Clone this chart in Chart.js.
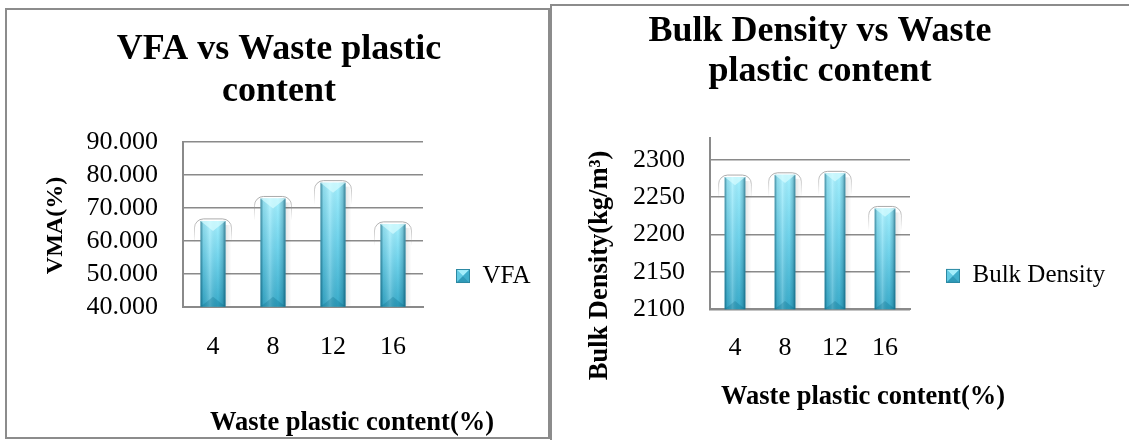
<!DOCTYPE html>
<html>
<head>
<meta charset="utf-8">
<script src="https://cdn.jsdelivr.net/npm/chart.js@4.4.1/dist/chart.umd.min.js"></script>
<style>
  html, body { margin: 0; padding: 0; background: #fff; }
  body { position: relative; width: 1129px; height: 440px; overflow: hidden; }
  .frame { position: absolute; box-sizing: border-box; border: 0 solid #8c8c8c; }
  #frameL { left: 5px; top: 8px; width: 545px; height: 431px; border-width: 2px; }
  #frameR { left: 550px; top: 4px; width: 579px; height: 436px; border-top-width: 2px; border-left-width: 2px; }
  canvas { position: absolute; top: 0; }
  #vfaChart { left: 0; }
  #densityChart { left: 512px; }
</style>
</head>
<body>
<div class="frame" id="frameL"></div>
<div class="frame" id="frameR"></div>
<canvas id="vfaChart" width="550" height="440"></canvas>
<canvas id="densityChart" width="617" height="440"></canvas>
<script>
// Waste plastic content of the mixes (%)
const contentLevels = ['4', '8', '12', '16'];
// Voids filled with asphalt (%)
const vfaValues = [66.0, 72.8, 77.6, 65.1];
// Bulk density (kg/m3)
const densityValues = [2277, 2280, 2282, 2235];
// Value axis ticks
const vfaTicks = [40, 50, 60, 70, 80, 90];
const densityTicks = [2100, 2150, 2200, 2250, 2300];
const densityAxisTop = 2329;

const SERIF = "'Liberation Serif', 'Times New Roman', serif";
const GRID = '#8a8a8a';
Chart.defaults.font.family = SERIF;
Chart.defaults.color = '#000';

// Column body: light cyan at the top fading to teal at the base
function barFill(c) {
  const chart = c.chart;
  if (c.type !== 'data' || !chart.chartArea) return '#5cc6df';
  const ys = chart.scales.y;
  const top = ys.getPixelForValue(c.raw);
  const bottom = ys.getPixelForValue(ys.min);
  const g = chart.ctx.createLinearGradient(0, top, 0, bottom);
  g.addColorStop(0, '#a6f1ff');
  g.addColorStop(0.45, '#72d5ed');
  g.addColorStop(1, '#3aaccb');
  return g;
}

// Glossy column look: outline round the top, rounded edge shading,
// bevelled top and bottom facets, and a matching legend swatch.
const barStyle = {
  id: 'barStyle',
  beforeDatasetsDraw(chart) {
    const ctx = chart.ctx;
    chart.getDatasetMeta(0).data.forEach(bar => {
      const { x, y, width } = bar.getProps(['x', 'y', 'width'], true);
      const l = x - width / 2 - 6, w = width + 12, t = y - 2, r = 9;
      const g = ctx.createLinearGradient(0, t, 0, t + 24);
      g.addColorStop(0, 'rgba(150,150,150,0.8)');
      g.addColorStop(1, 'rgba(150,150,150,0)');
      ctx.save();
      ctx.strokeStyle = g;
      ctx.lineWidth = 1;
      ctx.beginPath();
      ctx.moveTo(l, t + 24);
      ctx.lineTo(l, t + r);
      ctx.arcTo(l, t, l + r, t, r);
      ctx.lineTo(l + w - r, t);
      ctx.arcTo(l + w, t, l + w, t + r, r);
      ctx.lineTo(l + w, t + 24);
      ctx.stroke();
      ctx.restore();
    });
  },
  afterDatasetsDraw(chart) {
    const ctx = chart.ctx;
    const area = chart.chartArea;
    chart.getDatasetMeta(0).data.forEach(bar => {
      const p = bar.getProps(['x', 'y', 'base', 'width'], true);
      const x = p.x, y = p.y, width = p.width;
      const base = Math.min(p.base, area.bottom);
      const l = x - width / 2, r = x + width / 2, h = base - y;
      ctx.save();
      // soft shadow on the right
      const sh = ctx.createLinearGradient(r, 0, r + 6, 0);
      sh.addColorStop(0, 'rgba(0,0,0,0.10)');
      sh.addColorStop(1, 'rgba(0,0,0,0)');
      ctx.fillStyle = sh;
      ctx.fillRect(r, y + 4, 6, h - 5);
      // rounded edge shading
      const side = ctx.createLinearGradient(l, 0, r, 0);
      side.addColorStop(0, 'rgba(0,70,95,0.6)');
      side.addColorStop(0.12, 'rgba(0,70,95,0.12)');
      side.addColorStop(0.38, 'rgba(255,255,255,0.2)');
      side.addColorStop(0.7, 'rgba(0,70,95,0)');
      side.addColorStop(0.88, 'rgba(0,70,95,0.25)');
      side.addColorStop(1, 'rgba(0,70,95,0.65)');
      ctx.fillStyle = side;
      ctx.fillRect(l, y, width, h);
      const b = Math.min(width * 0.4, h / 2);
      // top facet
      ctx.beginPath();
      ctx.moveTo(l, y); ctx.lineTo(r, y); ctx.lineTo(x, y + b); ctx.closePath();
      ctx.fillStyle = 'rgba(215,252,255,0.7)';
      ctx.fill();
      // bottom facet
      ctx.beginPath();
      ctx.moveTo(l, base); ctx.lineTo(r, base); ctx.lineTo(x, base - b); ctx.closePath();
      ctx.fillStyle = 'rgba(0,95,125,0.25)';
      ctx.fill();
      ctx.restore();
    });
  },
  afterDraw(chart) {
    const lg = chart.legend;
    if (!lg || !lg.legendHitBoxes || !lg.legendHitBoxes.length) return;
    const lab = lg.options.labels;
    const bw = lab.boxWidth, bh = lab.boxHeight, fs = lab.font.size;
    const hb = lg.legendHitBoxes[0];
    const bx = hb.left, by = hb.top + Math.max((fs - bh) / 2, 0);
    const cx = bx + bw / 2, cy = by + bh / 2;
    const ctx = chart.ctx;
    const tri = (pts, col) => {
      ctx.beginPath();
      ctx.moveTo(pts[0], pts[1]); ctx.lineTo(pts[2], pts[3]); ctx.lineTo(cx, cy); ctx.closePath();
      ctx.fillStyle = col; ctx.fill();
    };
    ctx.save();
    tri([bx, by, bx + bw, by], '#a4eefb');
    tri([bx, by, bx, by + bh], '#62cbe4');
    tri([bx + bw, by, bx + bw, by + bh], '#3eaecb');
    tri([bx, by + bh, bx + bw, by + bh], '#2f9ab8');
    ctx.strokeStyle = '#2b88a2';
    ctx.lineWidth = 1;
    ctx.strokeRect(bx + 0.5, by + 0.5, bw - 1, bh - 1);
    ctx.restore();
  }
};

// Axis captions placed freely on the canvas
function makeCaptions(items) {
  return {
    id: 'captions',
    afterDraw(chart) {
      const ctx = chart.ctx;
      items.forEach(it => {
        ctx.save();
        ctx.font = `bold ${it.size}px ${SERIF}`;
        ctx.fillStyle = '#000';
        ctx.textAlign = 'center';
        ctx.textBaseline = 'middle';
        ctx.translate(it.x, it.y);
        if (it.vertical) ctx.rotate(-Math.PI / 2);
        ctx.fillText(it.text, 0, 0);
        ctx.restore();
      });
    }
  };
}

function columnChart(canvasId, opt) {
  const config = {
    type: 'bar',
    data: {
      labels: contentLevels,
      datasets: [{
        label: opt.series,
        data: opt.values,
        backgroundColor: barFill,
        borderWidth: 0,
        barPercentage: opt.barPct,
        categoryPercentage: 1
      }]
    },
    options: {
      responsive: false,
      animation: false,
      devicePixelRatio: 1,
      events: [],
      layout: { padding: { left: opt.padL, right: opt.padR, top: 0, bottom: 0 } },
      plugins: {
        title: {
          display: true,
          text: opt.title,
          color: '#000',
          font: { size: 36, weight: 'bold', lineHeight: opt.titleLH },
          padding: { top: opt.titleTop, bottom: opt.titleBottom }
        },
        legend: {
          position: 'right',
          align: 'start',
          fullSize: false,
          maxWidth: 400,
          title: { display: true, text: ' ', font: { size: 10, lineHeight: 1 }, padding: { top: opt.legendDrop, bottom: 0 } },
          labels: { boxWidth: 14, boxHeight: 14, padding: opt.legendPad, font: { size: 25 }, color: '#000' }
        },
        tooltip: { enabled: false }
      },
      scales: {
        x: {
          grid: { display: false, drawTicks: false },
          border: { display: true, color: GRID, width: 2 },
          ticks: { padding: opt.xPad, font: { size: 26 }, autoSkip: false },
          afterFit(s) { s.height = opt.xHeight; }
        },
        y: {
          min: opt.min,
          max: opt.max,
          afterBuildTicks(s) { s.ticks = opt.ticks.map(v => ({ value: v })); },
          grid: { color: GRID, lineWidth: 1.5, drawTicks: false },
          border: { display: true, color: GRID, width: 2 },
          ticks: { padding: 25, font: { size: 26 }, autoSkip: false, callback: opt.format },
          afterFit(s) { s.width = opt.yWidth; }
        }
      }
    },
    plugins: [barStyle, makeCaptions(opt.captions)]
  };
  const chart = new Chart(document.getElementById(canvasId), config);

  // The legend takes its natural width; slide the side paddings together so the
  // plot spans [plotLeft, plotRight] while the title keeps its centre.
  const shift = chart.chartArea.right - opt.plotRight;
  if (Math.abs(shift) > 0.01) {
    const pad = config.options.layout.padding;
    const newLeft = pad.left + shift, newRight = pad.right + shift;
    config.options.layout.padding = { left: newLeft, right: newRight, top: 0, bottom: 0 };
    opt.yWidth = opt.plotLeft - newLeft;
    chart.update();
  }
  return chart;
}

columnChart('vfaChart', {
  series: 'VFA',
  values: vfaValues,
  barPct: 0.417,
  title: ['VFA vs Waste plastic', 'content'],
  titleLH: 1.16, titleTop: 29.1, titleBottom: 29.1,
  padL: 13.5, padR: 5.5, yWidth: 169.5, plotLeft: 183, plotRight: 423,
  xHeight: 133.3, xPad: 25.2,
  legendPad: 33, legendDrop: 78.8,
  min: vfaTicks[0], max: vfaTicks[vfaTicks.length - 1], ticks: vfaTicks,
  format: v => Number(v).toFixed(3),
  captions: [
    { text: 'VMA(%)', x: 55.5, y: 225.5, size: 24, vertical: true },
    { text: 'Waste plastic content(%)', x: 352, y: 423, size: 26.5 }
  ]
});

columnChart('densityChart', {
  series: 'Bulk Density',
  values: densityValues,
  barPct: 0.414,
  title: ['Bulk Density vs Waste', 'plastic content'],
  titleLH: 1.11, titleTop: 11.7, titleBottom: 46.6,
  padL: 11.5, padR: 12.5, yWidth: 186.5, plotLeft: 198, plotRight: 398,
  xHeight: 130.7, xPad: 23.1,
  legendPad: 36, legendDrop: 79.2,
  min: densityTicks[0], max: densityAxisTop, ticks: densityTicks,
  format: v => String(v),
  captions: [
    { text: 'Bulk Density(kg/m\u00B3)', x: 88, y: 265.5, size: 26.5, vertical: true },
    { text: 'Waste plastic content(%)', x: 351, y: 397, size: 26.5 }
  ]
});
</script>
</body>
</html>
